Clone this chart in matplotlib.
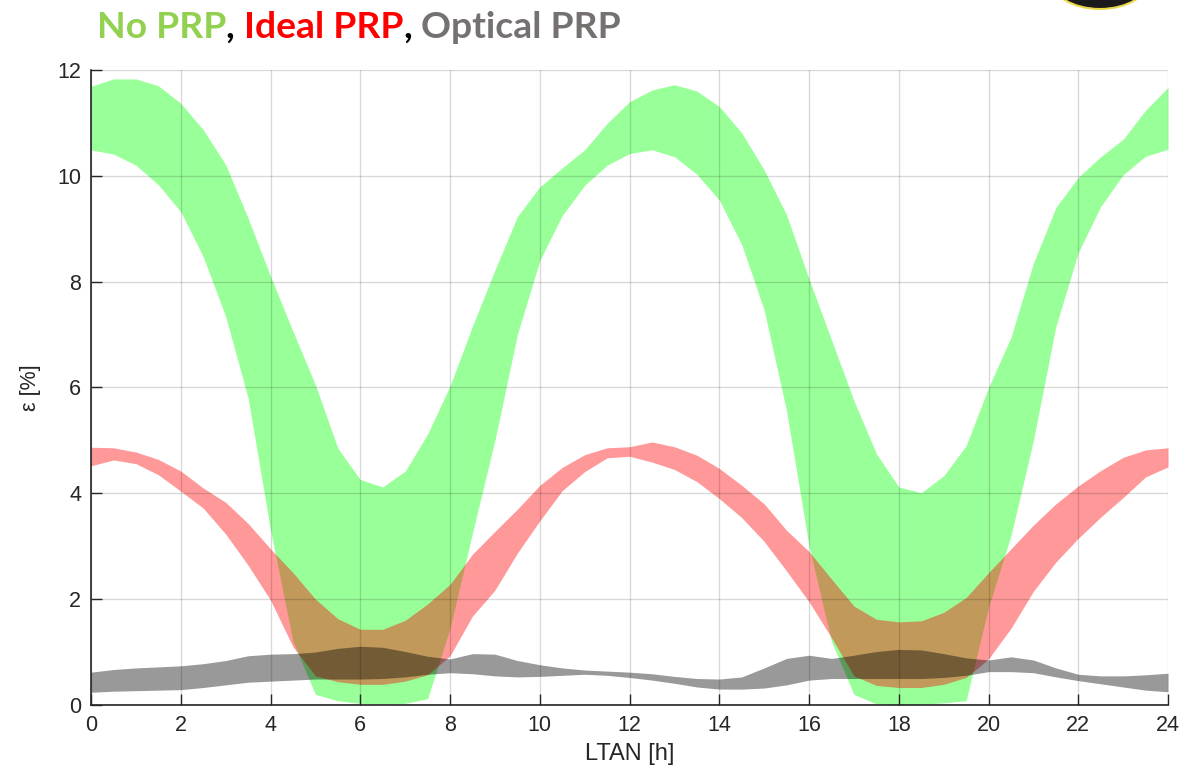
import numpy as np
import matplotlib
matplotlib.use("Agg")
import matplotlib.pyplot as plt
from matplotlib.patches import Ellipse

# LTAN grid, half-hour steps
ltan = np.arange(0, 24.5, 0.5)

# No PRP band (upper / lower edge) [%]
no_prp_hi = [11.69, 11.83, 11.83, 11.70, 11.37, 10.87, 10.21, 9.20, 8.10, 7.06,
             6.05, 4.85, 4.26, 4.12, 4.42, 5.12, 6.03, 7.16, 8.22, 9.23,
             9.79, 10.15, 10.49, 10.99, 11.40, 11.62, 11.72, 11.60, 11.31, 10.81,
             10.11, 9.26, 8.05, 6.90, 5.75, 4.75, 4.12, 4.01, 4.33, 4.90,
             6.00, 6.95, 8.35, 9.40, 9.97, 10.36, 10.69, 11.24, 11.67]
no_prp_lo = [10.49, 10.41, 10.20, 9.83, 9.32, 8.47, 7.34, 5.80, 3.30, 1.20,
             0.20, 0.08, 0.03, 0.01, 0.03, 0.12, 1.45, 3.25, 5.00, 7.00,
             8.40, 9.25, 9.82, 10.20, 10.42, 10.49, 10.36, 10.03, 9.54, 8.70,
             7.46, 5.55, 3.00, 1.20, 0.20, 0.02, 0.00, 0.01, 0.04, 0.08,
             1.85, 3.20, 5.00, 7.15, 8.55, 9.42, 10.02, 10.37, 10.50]

# Ideal PRP band
ideal_hi = [4.87, 4.86, 4.78, 4.64, 4.42, 4.10, 3.83, 3.43, 2.95, 2.50,
            2.00, 1.63, 1.43, 1.43, 1.60, 1.91, 2.28, 2.85, 3.28, 3.70,
            4.15, 4.49, 4.73, 4.86, 4.88, 4.97, 4.88, 4.72, 4.47, 4.15,
            3.80, 3.30, 2.90, 2.38, 1.87, 1.62, 1.57, 1.59, 1.75, 2.03,
            2.50, 2.95, 3.40, 3.80, 4.14, 4.43, 4.68, 4.82, 4.86]
ideal_lo = [4.52, 4.63, 4.56, 4.35, 4.04, 3.72, 3.23, 2.64, 1.98, 1.10,
            0.55, 0.44, 0.39, 0.39, 0.45, 0.57, 0.93, 1.68, 2.17, 2.87,
            3.48, 4.05, 4.41, 4.67, 4.70, 4.59, 4.45, 4.22, 3.90, 3.54,
            3.09, 2.53, 1.95, 1.27, 0.55, 0.37, 0.33, 0.33, 0.39, 0.52,
            0.87, 1.45, 2.15, 2.70, 3.15, 3.55, 3.92, 4.31, 4.50]

# Optical PRP band
optical_hi = [0.62, 0.67, 0.70, 0.72, 0.74, 0.78, 0.84, 0.93, 0.96, 0.97,
              1.00, 1.07, 1.11, 1.09, 1.01, 0.92, 0.87, 0.97, 0.96, 0.84,
              0.76, 0.70, 0.66, 0.64, 0.62, 0.59, 0.54, 0.50, 0.49, 0.53,
              0.70, 0.88, 0.94, 0.88, 0.94, 1.01, 1.05, 1.04, 0.97, 0.89,
              0.85, 0.91, 0.85, 0.70, 0.58, 0.55, 0.55, 0.57, 0.60]
optical_lo = [0.24, 0.26, 0.27, 0.28, 0.29, 0.33, 0.38, 0.43, 0.45, 0.47,
              0.49, 0.49, 0.49, 0.50, 0.53, 0.58, 0.61, 0.59, 0.55, 0.53,
              0.54, 0.56, 0.58, 0.56, 0.52, 0.47, 0.41, 0.34, 0.30, 0.30,
              0.32, 0.38, 0.47, 0.50, 0.50, 0.50, 0.50, 0.50, 0.52, 0.56,
              0.63, 0.63, 0.61, 0.53, 0.46, 0.40, 0.34, 0.28, 0.25]

xticks = list(range(0, 25, 2))
yticks = list(range(0, 13, 2))

plt.rcParams['font.family'] = ['Liberation Sans', 'DejaVu Sans']

fig = plt.figure(figsize=(11.98, 7.77), dpi=100)
ax = fig.add_axes([0.076, 0.0927, 0.899, 0.8173])

ax.fill_between(ltan, no_prp_lo, no_prp_hi, color=(0, 1, 0), alpha=0.4, lw=0)
ax.fill_between(ltan, ideal_lo, ideal_hi, color=(1, 0, 0), alpha=0.4, lw=0)
ax.fill_between(ltan, optical_lo, optical_hi, color=(0, 0, 0), alpha=0.4, lw=0)

ax.set_xlim(0, 24)
ax.set_ylim(0, 12)
ax.set_xticks(xticks)
ax.set_yticks(yticks)
ax.tick_params(direction='in', length=8, width=1, labelsize=15.5, colors='#262626',
               top=False, right=False, pad=7)
ax.grid(True, color='black', alpha=0.15, lw=1)
ax.set_axisbelow(False)
for s in ['top', 'right']:
    ax.spines[s].set_visible(False)
for s in ['left', 'bottom']:
    ax.spines[s].set_color('#262626')
    ax.spines[s].set_linewidth(1.2)

ax.set_xlabel('LTAN [h]', fontsize=17, color='#262626', labelpad=5)
ax.set_ylabel('ε [%]', fontsize=15.5, color='#262626', labelpad=12)

# coloured title pieces
parts = [("No PRP", '#92D050'), (", ", 'black'), ("Ideal PRP", '#FF0000'),
         (", ", 'black'), ("Optical PRP", '#767171')]
for txt, col in parts:
    fig.text(0, 0, txt, color=col, fontsize=26.8, fontweight='bold',
             family=['Lato', 'DejaVu Sans'])
fig.canvas.draw()
r = fig.canvas.get_renderer()
x = 97
for a in fig.texts:
    a.set_position((x / 1198, 1 - 38 / 777))
    x += a.get_window_extent(r).width

# corner logo, cut by top edge
fig.patches.append(Ellipse((1100 / 1198, 1 + 22 / 777), 100 / 1198, 62 / 777,
                           transform=fig.transFigure, facecolor='#1a1a1a',
                           edgecolor='#e8d84a', lw=1.5, figure=fig))

fig.savefig('out.png', dpi=100)
